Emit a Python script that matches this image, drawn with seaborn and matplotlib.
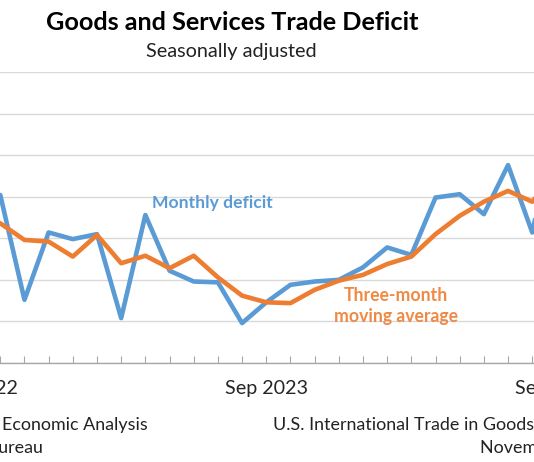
import pandas as pd
import seaborn as sns
import matplotlib.pyplot as plt

# months Sep 2022 .. Sep 2024 (billions of dollars)
months = ["Sep 2022", "Oct 2022", "Nov 2022", "Dec 2022", "Jan 2023", "Feb 2023",
          "Mar 2023", "Apr 2023", "May 2023", "Jun 2023", "Jul 2023", "Aug 2023",
          "Sep 2023", "Oct 2023", "Nov 2023", "Dec 2023", "Jan 2024", "Feb 2024",
          "Mar 2024", "Apr 2024", "May 2024", "Jun 2024", "Jul 2024", "Aug 2024",
          "Sep 2024"]
monthly = [73.0, 75.2, 62.6, 70.7, 69.9, 70.5, 60.4, 72.8, 66.1, 64.8, 64.7, 59.8,
           62.3, 64.4, 64.8, 65.0, 66.5, 68.9, 68.0, 74.9, 75.3, 72.9, 78.8, 70.7,
           84.4]
average = [72.5, 71.8, 69.8, 69.6, 67.8, 70.4, 67.0, 67.9, 66.4, 67.9, 65.3, 63.1,
           62.3, 62.2, 63.8, 64.9, 65.6, 66.9, 67.8, 70.5, 72.7, 74.4, 75.7, 74.4,
           78.0]

df = pd.DataFrame({"month": months, "idx": range(len(months)),
                   "monthly": monthly, "average": average})

sns.set_style("white")
plt.rcParams["font.family"] = ["Lato", "DejaVu Sans"]

blue = "#5B9BD5"
orange = "#ED7D31"

fig = plt.figure(figsize=(5.34, 4.62), dpi=100)
W, H = 534, 462
# plot area runs past the picture edges (the reference is a crop)
ax = fig.add_axes([-60 / W, 1 - 363 / H, 640 / W, 291 / H])

sns.lineplot(data=df, x="idx", y="monthly", color=blue, lw=3.3, ax=ax)
sns.lineplot(data=df, x="idx", y="average", color=orange, lw=3.3, ax=ax)

ax.set_xlim(-1.493, 24.975)
ax.set_ylim(55, 90)
ax.set_yticks(range(55, 91, 5))
ax.yaxis.grid(True, color="#D9D9D9", lw=1)
ax.set_xticks(df["idx"])
ax.set_xticklabels([m if m.startswith("Sep") else "" for m in months], fontsize=14.2)
ax.tick_params(axis="x", direction="in", length=5, width=0.8, color="#A6A6A6",
               pad=12, bottom=True)
ax.tick_params(axis="y", left=False, labelleft=False)
ax.set_xlabel("")
ax.set_ylabel("")
for s in ["top", "left", "right"]:
    ax.spines[s].set_visible(False)
ax.spines["bottom"].set_color("#A6A6A6")
ax.spines["bottom"].set_linewidth(1)

def ftext(x, y, s, **kw):
    fig.text(x / W, 1 - y / H, s, **kw)

ftext(232, 22, "Goods and Services Trade Deficit", fontsize=18.2, fontweight="bold",
      ha="center", va="center", color="black")
ftext(231, 51, "Seasonally adjusted", fontsize=14.3, ha="center", va="center",
      color="#222222")
ftext(212, 203, "Monthly deficit", fontsize=12.6, fontweight="bold", ha="center",
      va="center", color=blue)
ftext(396, 306, "Three-month\nmoving average", fontsize=12.7, fontweight="bold",
      ha="center", va="center", color="#EE8A45", linespacing=1.3)

ftext(148, 425, "U.S. Bureau of Economic Analysis", fontsize=12.9, ha="right",
      va="center", color="#222222")
ftext(43, 448, "U.S. Census Bureau", fontsize=12.9, ha="right", va="center",
      color="#222222")
ftext(273, 425, "U.S. International Trade in Goods and Services", fontsize=12.9,
      ha="left", va="center", color="#222222")
ftext(480, 448, "November 2024", fontsize=12.9, ha="left", va="center",
      color="#222222")

fig.savefig("out.png", dpi=100)
